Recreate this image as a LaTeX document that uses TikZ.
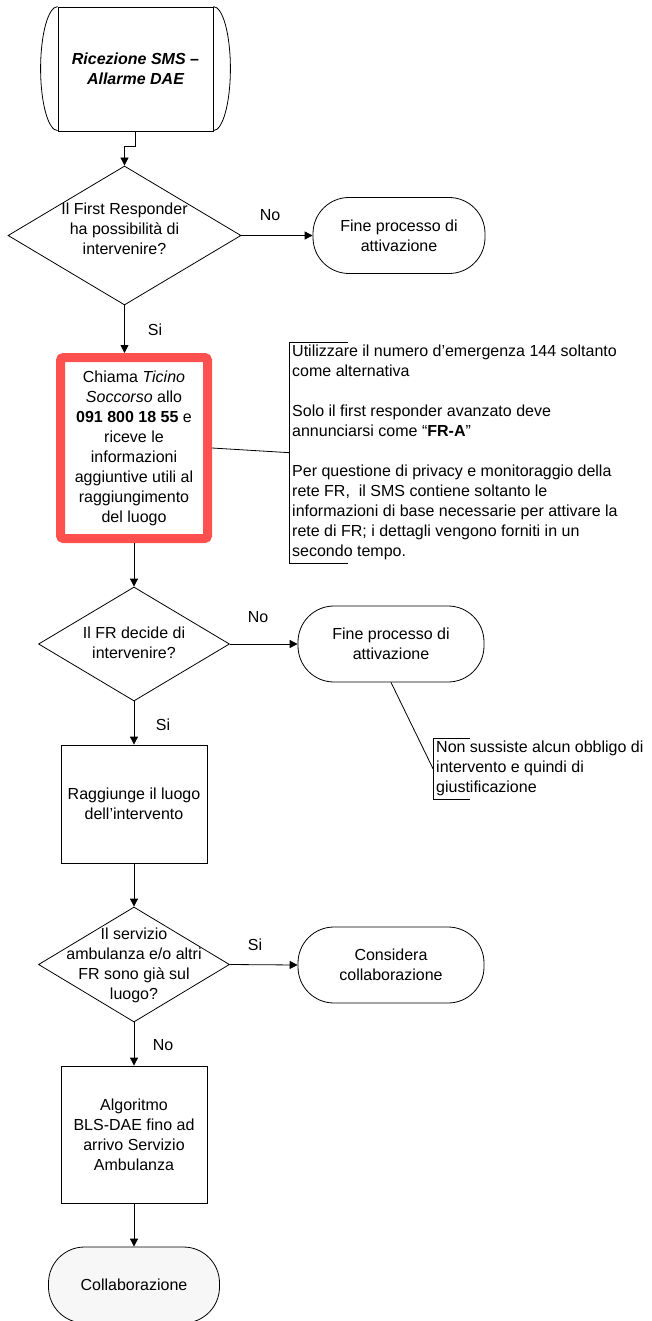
\documentclass[tikz,border=0pt]{standalone}
\usepackage{fontspec}
\setmainfont{Liberation Sans}
\usetikzlibrary{shapes.geometric,arrows.meta}
\definecolor{alarm}{HTML}{FF5050}

\begin{document}
\begin{tikzpicture}[x=1pt,y=-1pt,
    txt/.style={font=\fontsize{16pt}{20pt}\selectfont,align=center,inner sep=0pt},
    decision/.style={diamond,draw,line width=.8pt,inner sep=0pt},
    proc/.style={rectangle,draw,line width=.8pt,fill=white,txt},
    term/.style={rectangle,draw,line width=.8pt,rounded corners=36pt,fill=white,txt},
    note/.style={txt,align=left,inner sep=3pt},
    link/.style={draw,line width=.8pt},
    flow/.style={link,-{Triangle[length=8pt,width=8pt]}}]
  \useasboundingbox (0,0) rectangle (652,1321);
  \clip (0,0) rectangle (652,1321);

  \node[proc,minimum width=155pt,minimum height=124pt,
    font=\fontsize{16pt}{20pt}\selectfont\bfseries\itshape] (sms) at (135.5,69)
    {Ricezione SMS –\\Allarme DAE};
  \draw[link] (sms.north west) arc[start angle=90,end angle=270,x radius=17pt,y radius=62pt];
  \draw[link] (sms.north east) arc[start angle=90,end angle=-90,x radius=17pt,y radius=62pt];

  \node[decision,minimum width=233pt,minimum height=139pt] (d1) at (124.5,235.5) {};
  \node[txt] (d1t) at (124.5,229) {Il First Responder\\ha possibilità di\\intervenire?};
  \node[term,minimum width=172pt,minimum height=76pt] (t1) at (399,235.5)
    {Fine processo di\\attivazione};

  \node[proc,draw=alarm,line width=9pt,rounded corners=3pt,
    minimum width=147pt,minimum height=181pt] (call) at (134,448)
    {Chiama \textit{Ticino}\\\textit{Soccorso} allo\\\textbf{091 800 18 55} e\\riceve le\\informazioni\\aggiuntive utili al\\raggiungimento\\del luogo};

  \node[note,anchor=north west] (info) at (289,342)
    {Utilizzare il numero d’emergenza 144 soltanto\\come alternativa\\[20pt]
     Solo il first responder avanzato deve\\annunciarsi come “\textbf{FR-A}”\\[20pt]
     Per questione di privacy e monitoraggio della\\rete FR,\ \ il SMS contiene soltanto le\\
     informazioni di base necessarie per attivare la\\rete di FR; i dettagli vengono forniti in un\\
     secondo tempo.};
  \draw[link] ([xshift=59pt]info.north west) -- (info.north west) -- (info.south west) -- ([xshift=59pt]info.south west);

  \node[decision,minimum width=191pt,minimum height=114pt] (d2) at (134,644) {};
  \node[txt] (d2t) at (134,643) {Il FR decide di\\intervenire?};
  \node[term,minimum width=186pt,minimum height=76pt] (t2) at (391,644)
    {Fine processo di\\attivazione};

  \node[note,anchor=north west] (nooblig) at (433,738)
    {Non sussiste alcun obbligo di\\intervento e quindi di\\giustificazione};
  \draw[link] ([xshift=37pt]nooblig.north west) -- (nooblig.north west) -- (nooblig.south west) -- ([xshift=37pt]nooblig.south west);

  \node[proc,minimum width=146pt,minimum height=118pt] (reach) at (134,804)
    {Raggiunge il luogo\\dell’intervento};

  \node[decision,minimum width=191pt,minimum height=115pt] (d3) at (134,964.5) {};
  \node[txt] (d3t) at (134,965) {Il servizio\\ambulanza e/o altri\\FR sono già sul\\luogo?};
  \node[term,minimum width=186pt,minimum height=76pt] (t3) at (391,965)
    {Considera\\collaborazione};

  \node[proc,minimum width=146pt,minimum height=137pt] (bls) at (134,1134.5)
    {Algoritmo\\BLS-DAE fino ad\\arrivo Servizio\\Ambulanza};
  \node[term,fill=black!3,minimum width=171pt,minimum height=76pt] (t4) at (134,1285)
    {Collaborazione};

  \node[txt] (no1) at (270,215) {No};
  \node[txt] (si1) at (155,330) {Si};
  \node[txt] (no2) at (258,617) {No};
  \node[txt] (si2) at (163,725) {Si};
  \node[txt] (si3) at (255,945) {Si};
  \node[txt] (no3) at (163,1045) {No};

  \draw[flow] (sms.south) -- ++(0,15) -| (d1.north);
  \draw[flow] (d1.east) -- (t1.west);
  \draw[flow] (d1.south) -- (d1.south |- call.north);
  \draw[link] (call.east) -- (info.west);
  \draw[flow] (call.south) -- (d2.north);
  \draw[flow] (d2.east) -- (t2.west);
  \draw[link] (t2.south) -- (nooblig.west);
  \draw[flow] (d2.south) -- (reach.north);
  \draw[flow] (reach.south) -- (d3.north);
  \draw[flow] (d3.east) -- (t3.west);
  \draw[flow] (d3.south) -- (bls.north);
  \draw[flow] (bls.south) -- (t4.north);
\end{tikzpicture}
\end{document}
